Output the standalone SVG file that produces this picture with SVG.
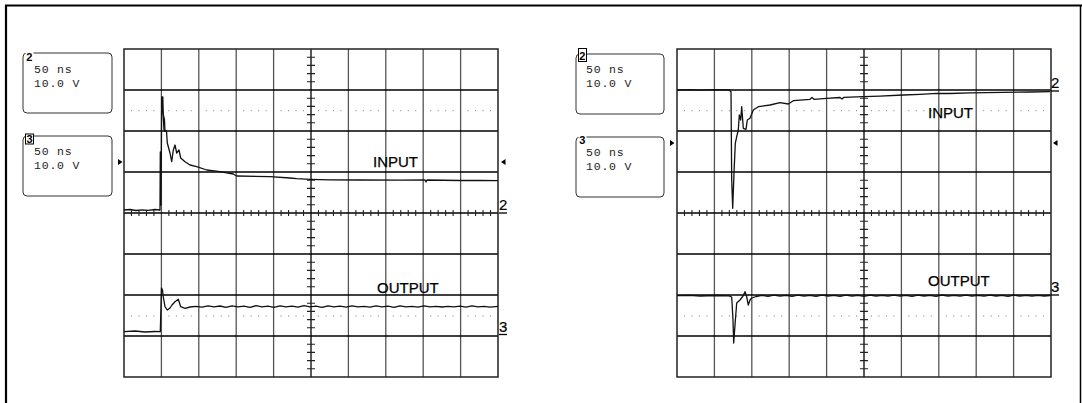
<svg xmlns="http://www.w3.org/2000/svg" width="1082" height="403" viewBox="0 0 1082 403">
<style>
.frame{fill:none;stroke:#000;stroke-width:2.2}
.box{fill:#fff;stroke:#333;stroke-width:1}
.mono{font-family:"Liberation Mono","DejaVu Sans Mono",monospace;font-size:11.5px;letter-spacing:0.8px;fill:#222}
.tag{font-family:"Liberation Sans",Arial,sans-serif;font-size:11px;font-weight:bold;fill:#000}
.lbl{font-family:"Liberation Sans",Arial,sans-serif;font-size:15px;fill:#000;stroke:#000;stroke-width:0.25}
.ch{font-family:"Liberation Sans",Arial,sans-serif;font-size:15px;fill:#000;stroke:#000;stroke-width:0.2}
.vl{stroke:#555;stroke-width:1.3}
.hl{stroke:#000;stroke-width:1.3}
.tk{stroke:#222;stroke-width:1.1}
.dots{stroke:#777;stroke-width:1;stroke-dasharray:0 6.98 1 6.48 1 6.48 1 6.48 1 6.98}
.tr{fill:none;stroke:#111;stroke-width:1.3;stroke-linejoin:round}
.mk{fill:#000}
</style>
<defs>
<g id="grid">
<g class="vl">
<line x1="37.4" y1="0" x2="37.4" y2="328"/><line x1="74.8" y1="0" x2="74.8" y2="328"/><line x1="112.2" y1="0" x2="112.2" y2="328"/><line x1="149.6" y1="0" x2="149.6" y2="328"/><line x1="224.4" y1="0" x2="224.4" y2="328"/><line x1="261.8" y1="0" x2="261.8" y2="328"/><line x1="299.2" y1="0" x2="299.2" y2="328"/><line x1="336.6" y1="0" x2="336.6" y2="328"/>
</g>
<line x1="187" y1="0" x2="187" y2="328" stroke="#000" stroke-width="1.3"/>
<g class="hl">
<line x1="0" y1="41" x2="374" y2="41"/><line x1="0" y1="82" x2="374" y2="82"/><line x1="0" y1="123" x2="374" y2="123"/><line x1="0" y1="164" x2="374" y2="164"/><line x1="0" y1="205" x2="374" y2="205"/><line x1="0" y1="246" x2="374" y2="246"/><line x1="0" y1="287" x2="374" y2="287"/>
</g>
<path class="tk" d="M183 8.2h8M183 16.4h8M183 24.6h8M183 32.8h8M183 49.2h8M183 57.4h8M183 65.6h8M183 73.8h8M183 90.2h8M183 98.4h8M183 106.6h8M183 114.8h8M183 131.2h8M183 139.4h8M183 147.6h8M183 155.8h8M183 172.2h8M183 180.4h8M183 188.6h8M183 196.8h8M183 213.2h8M183 221.4h8M183 229.6h8M183 237.8h8M183 254.2h8M183 262.4h8M183 270.6h8M183 278.8h8M183 295.2h8M183 303.4h8M183 311.6h8M183 319.8h8"/>
<path class="tk" d="M7.48 161v6M14.96 161v6M22.44 161v6M29.92 161v6M44.88 161v6M52.36 161v6M59.84 161v6M67.32 161v6M82.28 161v6M89.76 161v6M97.24 161v6M104.72 161v6M119.68 161v6M127.16 161v6M134.64 161v6M142.12 161v6M157.08 161v6M164.56 161v6M172.04 161v6M179.52 161v6M194.48 161v6M201.96 161v6M209.44 161v6M216.92 161v6M231.88 161v6M239.36 161v6M246.84 161v6M254.32 161v6M269.28 161v6M276.76 161v6M284.24 161v6M291.72 161v6M306.68 161v6M314.16 161v6M321.64 161v6M329.12 161v6M344.08 161v6M351.56 161v6M359.04 161v6M366.52 161v6"/>
<line class="dots" x1="0" y1="61.7" x2="374" y2="61.7"/>
<line class="dots" x1="0" y1="267" x2="374" y2="267"/>
<rect x="0" y="0" width="374" height="328" fill="none" stroke="#222" stroke-width="1.5"/>
</g>
</defs>

<g id="frame">
<line class="frame" x1="5" y1="5.5" x2="1082" y2="5.5"/>
<line class="frame" x1="6" y1="5" x2="6" y2="403"/>
<line x1="1080.5" y1="5" x2="1080.5" y2="403" stroke="#000" stroke-width="1.5"/>
</g>

<!-- LEFT SCOPE -->
<g id="left-box-ch2">
<rect class="box" x="23" y="53" width="89" height="60" rx="4"/>
<rect x="25.5" y="50" width="8" height="11" fill="#fff"/>
<text class="tag" x="26.3" y="61">2</text>
<text class="mono" x="34" y="73">50 ns</text>
<text class="mono" x="34" y="87">10.0 V</text>
</g>
<g id="left-box-ch3">
<rect class="box" x="23" y="136" width="89" height="60" rx="4"/>
<rect x="25.5" y="134" width="8" height="10" fill="#fff" stroke="#000" stroke-width="1"/>
<text class="tag" x="26.5" y="143">3</text>
<text class="mono" x="34" y="155">50 ns</text>
<text class="mono" x="34" y="169">10.0 V</text>
</g>
<g id="left-scope">
<use href="#grid" x="124" y="49"/>
<polygon class="mk" points="118,159 122.5,162 118,165"/>
<polygon class="mk" points="505.5,159 501,162 505.5,165"/>
<polyline class="tr" points="124,210 130,209.5 136,210.5 142,209.8 148,210.3 155,209.5 160,210 160.3,152 161,205 161.7,97 162.8,97 163.3,117 164,130 166.5,131 167.3,143 170,153 171.7,161.7 173.3,150 175,145 176.7,153 179,150 180.7,158 183,160 185,161.7 190,165 196.7,166.7 206.7,170 220,171.7 233.3,174 236.7,176 270,176.7 290,178 296.7,178.7 310,179.3 330,179.8 360,180 400,180.2 425,180 426,182 427,180 460,180.5 480,180.3 498,180.7"/>
<polyline class="tr" stroke-width="2.2" points="162,97 162.3,110 164.5,120 165,132"/>
<polyline class="tr" points="124,331.7 135,331 145,332 155,331.5 160.3,331.7 160.7,317 161.5,288 162.5,290 163.3,297 165,306.7 167.3,310 170,308 172,305 175,301.7 178.3,299.3 180.7,306.7 185,308.3 190,307 196,306.4 202,307.2 208,305.8 214,306.9 220,306 226,307.3 232,305.9 238,306.8 244,306.1 250,307.4 256,305.7 262,306.9 268,306.2 274,307.3 280,305.9 286,306.8 292,306.1 298,307.2 304,305.6 310,306.9 316,306.2 322,307.3 328,305.8 334,306.9 340,306.2 346,307.1 352,305.8 358,306.9 364,306.3 370,307.2 376,305.9 382,306.8 388,306.1 394,307.3 400,305.8 406,306.9 412,306.3 418,307.1 424,305.9 430,306.8 436,306.4 442,307 448,306.4 454,306.8 460,306.2 466,307.2 472,305.9 478,306.8 484,306.3 490,307.1 498,306.4"/>
<text class="lbl" x="373" y="167">INPUT</text>
<text class="lbl" x="377" y="293">OUTPUT</text>
<text class="ch" x="499" y="210">2</text>
<line x1="499" y1="213" x2="507" y2="213" stroke="#000" stroke-width="1.3"/>
<text class="ch" x="499" y="332">3</text>
<line x1="499" y1="334.5" x2="507" y2="334.5" stroke="#000" stroke-width="1.3"/>
</g>

<!-- RIGHT SCOPE -->
<g id="right-box-ch2">
<rect class="box" x="576" y="54" width="88" height="60" rx="4"/>
<rect x="578.5" y="48.5" width="8" height="13" fill="#fff" stroke="#000" stroke-width="1"/>
<text class="tag" x="579.3" y="59.5">2</text>
<text class="mono" x="586" y="73">50 ns</text>
<text class="mono" x="586" y="87">10.0 V</text>
</g>
<g id="right-box-ch3">
<rect class="box" x="576" y="137" width="88" height="60" rx="4"/>
<rect x="578.5" y="134" width="8" height="11" fill="#fff"/>
<text class="tag" x="579.3" y="144">3</text>
<text class="mono" x="586" y="156">50 ns</text>
<text class="mono" x="586" y="170">10.0 V</text>
</g>
<g id="right-scope">
<use href="#grid" x="677" y="49"/>
<polygon class="mk" points="670,140 674.5,143 670,146"/>
<polygon class="mk" points="1057.5,140 1053,143 1057.5,146"/>
<polyline class="tr" points="677,90 690,89.6 700,90.2 715,89.7 729.3,90 731,91.7 731.7,180 732.7,208.3 734,173.3 735.3,143.3 736.7,136.7 738.3,130 739.3,115 740.7,120 741.7,106.7 743.3,128.3 746,129.3 747.3,120 750,118.3 753.3,110 758.3,106.7 770,105 780,102.7 788.3,104 793.3,100.7 810,99.3 812,97.5 814,99.3 826.7,98.3 840,97.5 842,99 844,97.3 863.3,96.7 880,96.2 903.3,95 920,94.3 936.7,93.3 950,93.5 970,92.8 1003.3,92.3 1030,92 1050,91.7"/>
<polyline class="tr" points="677,295.7 690,295.3 700,296 715,295.5 729,295.8 731.7,297 733,320 733.7,343 735,325 736.7,303 740,300 743,296 745,291.7 746.5,296 748.3,305 750,300 751.7,298 756,296.5 762,295.4 768,296.3 774,295.2 780,296.1 786,295.3 792,296.4 798,295.1 804,296.2 810,295.4 816,296.3 822,295.2 828,296 834,295.3 840,296.4 846,295.2 852,296.1 858,295.4 864,296.3 870,295.2 876,296.1 882,295.4 888,296.2 894,295.2 900,296.1 906,295.3 912,296.3 918,295.2 924,296 930,295.4 936,296.3 942,295.2 948,296.1 954,295.3 960,296.2 966,295.2 972,296.1 978,295.4 984,296.2 990,295.2 996,296 1002,295.3 1008,296.3 1014,295.2 1020,296.1 1026,295.4 1032,296.2 1038,295.3 1044,296 1050,295.5"/>
<text class="lbl" x="928" y="118">INPUT</text>
<text class="lbl" x="928" y="286">OUTPUT</text>
<text class="ch" x="1051" y="88">2</text>
<line x1="1051" y1="91" x2="1059" y2="91" stroke="#000" stroke-width="1.3"/>
<text class="ch" x="1051" y="292">3</text>
<line x1="1051" y1="295" x2="1059" y2="295" stroke="#000" stroke-width="1.3"/>
</g>
</svg>
